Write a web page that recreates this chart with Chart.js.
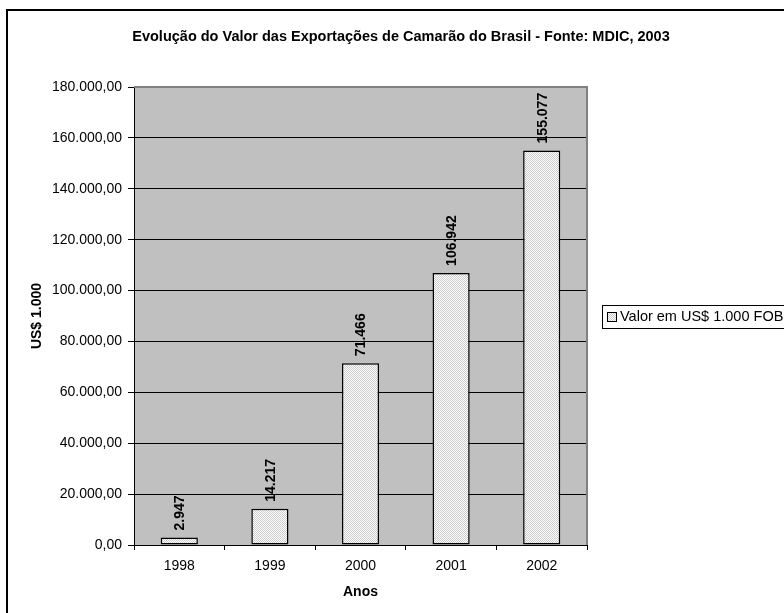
<!DOCTYPE html>
<html>
<head>
<meta charset="utf-8">
<script src="https://cdn.jsdelivr.net/npm/chart.js@4.4.0/dist/chart.umd.min.js"></script>
<style>
    html, body { margin: 0; padding: 0; background: #fff; }
    #wrap { width: 784px; height: 613px; }
</style>
</head>
<body>
<div id="wrap"><canvas id="chart" width="784" height="613"></canvas></div>
<script>
// ---- DATA ----
const anos = ['1998', '1999', '2000', '2001', '2002'];
const valores = [2947, 14217, 71466, 106942, 155077];
const serieNome = 'Valor em US$ 1.000 FOB';
const titulo = 'Evolução do Valor das Exportações de Camarão do Brasil - Fonte: MDIC, 2003';
const yMin = 0;
const yMax = 180000;
const yStep = 20000;

const FONT = '"Liberation Sans", Arial, sans-serif';

// number formatting, pt-BR style
function milhar(n) {
    return String(Math.round(n)).replace(/\B(?=(\d{3})+(?!\d))/g, '.');
}
function comDecimais(n) {
    return milhar(n) + ',00';
}

// dotted fill for the bars
function padraoPontilhado() {
    const c = document.createElement('canvas');
    c.width = 2;
    c.height = 2;
    const g = c.getContext('2d');
    g.fillStyle = '#ffffff';
    g.fillRect(0, 0, 2, 2);
    g.fillStyle = '#cccccc';
    g.fillRect(0, 0, 1, 1);
    g.fillRect(1, 1, 1, 1);
    return g.createPattern(c, 'repeat');
}

Chart.defaults.color = '#000';
Chart.defaults.font.family = FONT;
Chart.defaults.font.size = 14;

// background, frame, title, legend and value labels
const excelLook = {
    id: 'excelLook',
    beforeDraw(chart) {
        const { ctx, chartArea: a } = chart;
        ctx.save();
        ctx.fillStyle = '#fff';
        ctx.fillRect(0, 0, chart.width, chart.height);
        ctx.fillStyle = '#c0c0c0';
        ctx.fillRect(a.left, a.top, a.right - a.left, a.bottom - a.top);
        ctx.restore();
    },
    afterDatasetsDraw(chart) {
        const { ctx } = chart;
        const meta = chart.getDatasetMeta(0);
        ctx.save();
        ctx.font = 'bold 14px ' + FONT;
        ctx.fillStyle = '#000';
        ctx.textAlign = 'left';
        ctx.textBaseline = 'middle';
        meta.data.forEach((bar, i) => {
            ctx.save();
            ctx.translate(bar.x + 1, bar.y - 7);
            ctx.rotate(-Math.PI / 2);
            ctx.fillText(milhar(valores[i]), 0, 0);
            ctx.restore();
        });
        ctx.restore();
    },
    afterDraw(chart) {
        const { ctx, chartArea: a } = chart;
        ctx.save();

        // plot border (top and right)
        ctx.strokeStyle = '#808080';
        ctx.lineWidth = 2;
        ctx.beginPath();
        ctx.moveTo(a.left, a.top);
        ctx.lineTo(a.right, a.top);
        ctx.lineTo(a.right, a.bottom);
        ctx.stroke();

        // outer frame
        ctx.strokeStyle = '#000';
        ctx.lineWidth = 2;
        ctx.beginPath();
        ctx.moveTo(7, chart.height + 2);
        ctx.lineTo(7, 10);
        ctx.lineTo(chart.width + 2, 10);
        ctx.stroke();

        // title
        ctx.font = 'bold 14.5px ' + FONT;
        ctx.fillStyle = '#000';
        ctx.textAlign = 'center';
        ctx.textBaseline = 'middle';
        ctx.fillText(titulo, 401, 37);

        // legend
        ctx.lineWidth = 1;
        ctx.strokeStyle = '#000';
        ctx.strokeRect(602.5, 305.5, 230, 23);
        ctx.fillStyle = padraoPontilhado();
        ctx.fillRect(607, 312, 9, 9);
        ctx.strokeRect(607.5, 312.5, 9, 9);
        ctx.fillStyle = '#000';
        ctx.font = '14.5px ' + FONT;
        ctx.textAlign = 'left';
        ctx.fillText(serieNome, 620, 317);

        ctx.restore();
    }
};

new Chart(document.getElementById('chart'), {
    type: 'bar',
    data: {
        labels: anos,
        datasets: [{
            label: serieNome,
            data: valores,
            backgroundColor: padraoPontilhado(),
            borderColor: '#000',
            borderWidth: 1.5,
            borderSkipped: false,
            categoryPercentage: 1,
            barPercentage: 0.41
        }]
    },
    options: {
        responsive: false,
        animation: false,
        devicePixelRatio: 1,
        layout: {
            padding: { top: 87, right: 197, bottom: 0, left: 0 }
        },
        plugins: {
            legend: { display: false },
            title: { display: false },
            tooltip: { enabled: false }
        },
        scales: {
            x: {
                afterFit(scale) { scale.height = 68; },
                grid: {
                    offset: true,
                    drawOnChartArea: false,
                    drawTicks: true,
                    tickLength: 5,
                    tickColor: '#000'
                },
                border: { color: '#000', width: 1 },
                ticks: { padding: 8, font: { size: 14 }, maxRotation: 0 },
                title: {
                    display: true,
                    text: 'Anos',
                    font: { size: 14, weight: 'bold' },
                    padding: { top: 0, bottom: 12.6 }
                }
            },
            y: {
                min: yMin,
                max: yMax,
                afterFit(scale) { scale.width = 134; },
                grid: {
                    color: ctx => (ctx.tick && ctx.tick.value === yMax) ? 'rgba(0,0,0,0)' : '#000',
                    tickColor: '#000',
                    tickLength: 6,
                    lineWidth: 1
                },
                border: { color: '#000', width: 1 },
                ticks: {
                    stepSize: yStep,
                    padding: 6,
                    font: { size: 14 },
                    callback: v => comDecimais(v)
                },
                title: {
                    display: true,
                    text: 'US$ 1.000',
                    font: { size: 14, weight: 'bold' },
                    padding: { top: 28.6, bottom: 0 }
                }
            }
        }
    },
    plugins: [excelLook]
});
</script>
</body>
</html>
